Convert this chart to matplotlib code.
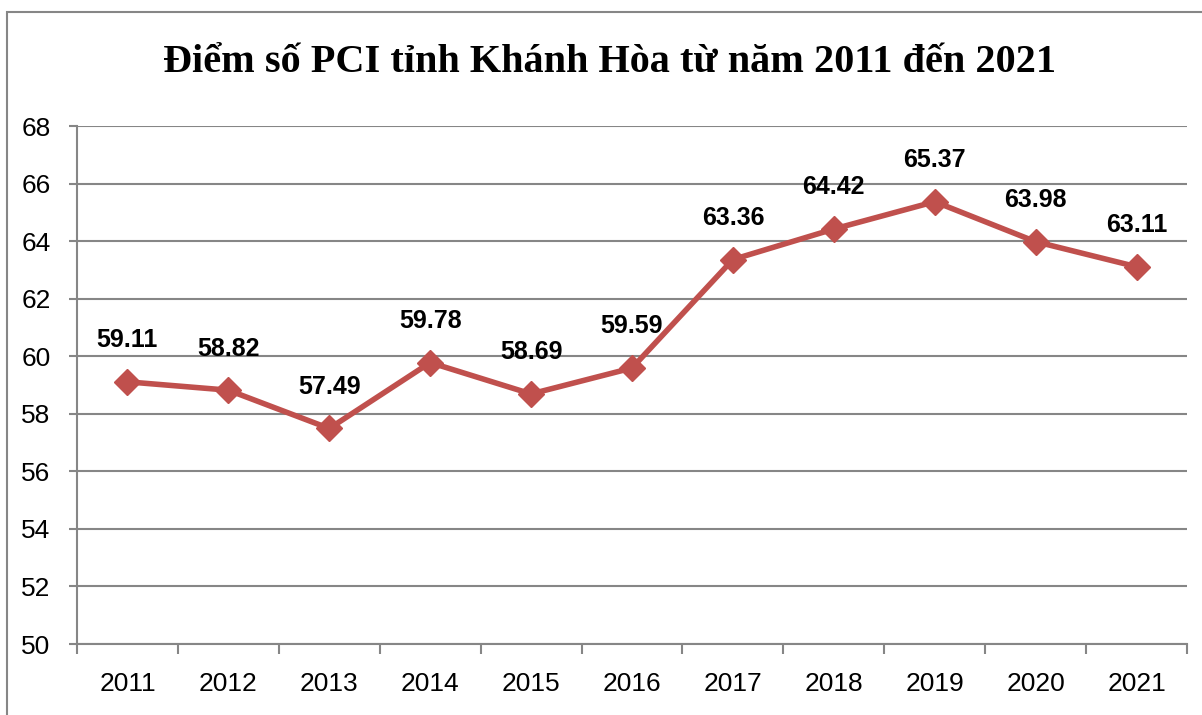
import numpy as np
import matplotlib
matplotlib.use('Agg')
import matplotlib.pyplot as plt
from matplotlib.patches import Rectangle

years = ['2011', '2012', '2013', '2014', '2015', '2016', '2017', '2018', '2019', '2020', '2021']
pci = [59.11, 58.82, 57.49, 59.78, 58.69, 59.59, 63.36, 64.42, 65.37, 63.98, 63.11]
y_ticks = [50, 52, 54, 56, 58, 60, 62, 64, 66, 68]

narrow = ['Liberation Sans Narrow', 'Liberation Sans', 'DejaVu Sans']
grey = '#868686'
red = '#C0504D'

fig = plt.figure(figsize=(12.02, 7.15), dpi=100)

# outer frame of the chart object (cropped at right/bottom)
frame = Rectangle((7 / 1202, -0.05), 1.1, 1 - 12 / 715 + 0.05, transform=fig.transFigure,
                  fill=False, edgecolor=grey, linewidth=1.5, clip_on=False)
fig.patches.append(frame)

ax = fig.add_axes([77 / 1202, 1 - 644 / 715, (1187 - 77) / 1202, (644 - 126) / 715])

x = np.arange(len(years))
ax.plot(x, pci, color=red, linewidth=4, marker='D', markersize=13,
        markerfacecolor=red, markeredgecolor=red, zorder=3)

for xi, v in zip(x, pci):
    ax.annotate(f'{v:.2f}', (xi, v), xytext=(0, 30), textcoords='offset points',
                ha='center', va='center', fontsize=18, fontweight='bold',
                family=narrow, color='black')

ax.set_xlim(-0.5, len(years) - 0.5)
ax.set_ylim(50, 68)
ax.set_yticks(y_ticks)
ax.set_xticks(x)
ax.set_xticklabels(years)
ax.set_xticks(np.arange(-0.5, len(years)), minor=True)

ax.grid(axis='y', color=grey, linewidth=1.5, zorder=0)
ax.set_axisbelow(True)

for s in ['top', 'right']:
    ax.spines[s].set_visible(False)
for s in ['left', 'bottom']:
    ax.spines[s].set_color(grey)
    ax.spines[s].set_linewidth(1.5)

ax.tick_params(axis='y', length=6, width=1.5, color=grey, pad=13, labelsize=19)
ax.tick_params(axis='x', which='major', length=0, pad=20, labelsize=19)
ax.tick_params(axis='x', which='minor', length=7, width=1.5, color=grey)
for lbl in ax.get_xticklabels() + ax.get_yticklabels():
    lbl.set_family(narrow)

fig.text(610 / 1202, 1 - 63 / 715, 'Điểm số PCI tỉnh Khánh Hòa từ năm 2011 đến 2021',
         ha='center', va='center', fontsize=29, fontweight='bold',
         family=['Liberation Serif', 'DejaVu Serif'])

fig.savefig('out.png', dpi=100)
